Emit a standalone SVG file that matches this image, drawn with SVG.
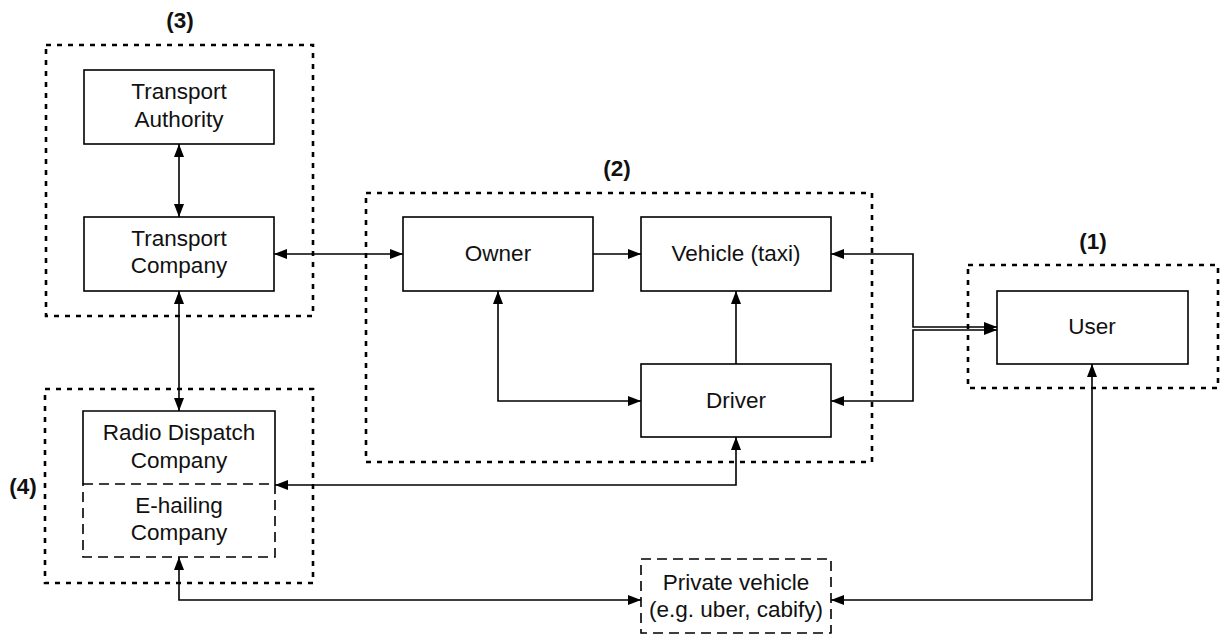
<svg xmlns="http://www.w3.org/2000/svg" width="1223" height="640" viewBox="0 0 1223 640">
<defs>
<marker id="ah" viewBox="0 0 13 10" refX="13" refY="5" markerWidth="13" markerHeight="10" markerUnits="userSpaceOnUse" orient="auto-start-reverse">
<path d="M0,0 L13,5 L0,10 Z" fill="#000"/>
</marker>
</defs>
<style>
.grp{fill:none;stroke:#000;stroke-width:2.6;stroke-dasharray:5 6}
.box{fill:#fff;stroke:#000;stroke-width:1.6}
.dbox{fill:#fff;stroke:#000;stroke-width:1.6;stroke-dasharray:10 6}
.t{font-family:"Liberation Sans",Arial,sans-serif;font-size:22.5px;fill:#111;text-anchor:middle}
.lbl{font-family:"Liberation Sans",Arial,sans-serif;font-size:22.5px;font-weight:bold;fill:#111;text-anchor:middle}
.c{fill:none;stroke:#000;stroke-width:1.6}
.a2{marker-start:url(#ah);marker-end:url(#ah)}
.a1{marker-end:url(#ah)}
</style>
<rect width="1223" height="640" fill="#fff"/>

<g id="groups">
<rect id="group3" class="grp" x="46" y="45" width="267" height="271"/>
<rect id="group2" class="grp" x="366" y="193" width="506" height="269"/>
<rect id="group1" class="grp" x="968" y="265" width="250" height="123"/>
<rect id="group4" class="grp" x="45" y="389" width="268" height="194"/>
<text class="lbl" x="180" y="28">(3)</text>
<text class="lbl" x="617" y="176">(2)</text>
<text class="lbl" x="1093" y="249">(1)</text>
<text class="lbl" x="23" y="494">(4)</text>
</g>

<g id="connectors">
<line class="c a2" x1="179" y1="144" x2="179" y2="217"/>
<line class="c a2" x1="274" y1="254" x2="403" y2="254"/>
<line class="c a1" x1="593" y1="254" x2="641" y2="254"/>
<line class="c a1" x1="736" y1="364" x2="736" y2="291"/>
<polyline class="c a2" points="498,291 498,401 641,401"/>
<line class="c a2" x1="179" y1="291" x2="179" y2="411"/>
<polyline class="c a2" points="275,485 736,485 736,437"/>
<polyline class="c a2" points="831,254 913,254 913,327 997,327"/>
<polyline class="c a2" points="831,401 913,401 913,330 997,330"/>
<polyline class="c a2" points="179,557 179,600 641,600"/>
<polyline class="c a2" points="831,600 1092,600 1092,364"/>
</g>

<g id="transport-authority">
<rect class="box" x="84" y="70" width="190" height="74"/>
<text class="t" x="179" y="99">Transport</text>
<text class="t" x="179" y="127">Authority</text>
</g>
<g id="transport-company">
<rect class="box" x="84" y="217" width="190" height="74"/>
<text class="t" x="179" y="246">Transport</text>
<text class="t" x="179" y="273">Company</text>
</g>
<g id="owner">
<rect class="box" x="403" y="217" width="190" height="74"/>
<text class="t" x="498" y="261">Owner</text>
</g>
<g id="vehicle">
<rect class="box" x="641" y="217" width="190" height="74"/>
<text class="t" x="736" y="261">Vehicle (taxi)</text>
</g>
<g id="driver">
<rect class="box" x="641" y="364" width="190" height="73"/>
<text class="t" x="736" y="408">Driver</text>
</g>
<g id="user">
<rect class="box" x="997" y="291" width="191" height="73"/>
<text class="t" x="1092" y="334">User</text>
</g>
<g id="radio-dispatch">
<rect fill="#fff" x="83" y="411" width="192" height="73"/>
<path class="c" d="M83,484 L83,411 L275,411 L275,484"/>
<text class="t" x="179" y="440">Radio Dispatch</text>
<text class="t" x="179" y="468">Company</text>
</g>
<g id="e-hailing">
<rect class="dbox" x="83" y="484" width="192" height="73"/>
<text class="t" x="179" y="513">E-hailing</text>
<text class="t" x="179" y="540">Company</text>
</g>
<g id="private-vehicle">
<rect class="dbox" x="641" y="559" width="190" height="74"/>
<text class="t" x="736" y="590">Private vehicle</text>
<text class="t" x="736" y="617">(e.g. uber, cabify)</text>
</g>
</svg>
